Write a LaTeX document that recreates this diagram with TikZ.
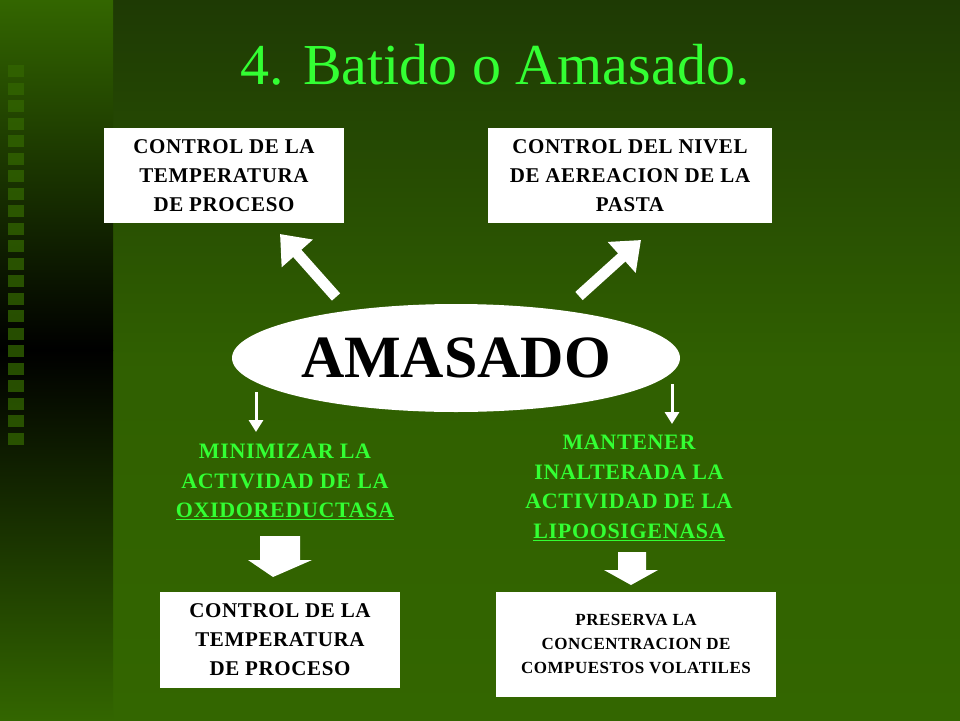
\documentclass[tikz,border=0pt]{standalone}
\usepackage{fontspec}
\setmainfont{Liberation Serif}
\usetikzlibrary{shapes.geometric,arrows.meta}
\definecolor{lg}{HTML}{33FF33}
\definecolor{dg}{HTML}{1E3A04}
\definecolor{mg}{HTML}{336600}
\newfontfamily\spaced[LetterSpace=3]{Liberation Serif}
\tikzset{
 box/.style={fill=white,minimum width=#1,inner sep=0pt,align=center,font=\spaced\bfseries\fontsize{21}{29}\selectfont},
 gtext/.style={text=lg,align=center,font=\spaced\bfseries\fontsize{22}{29.5}\selectfont},
 bigarrow/.style={white,line width=11pt,-{Triangle[length=26pt,width=40pt]}},
 thin/.style={white,line width=3pt,-{Triangle[length=12pt,width=14pt]}},
}
\begin{document}
\begin{tikzpicture}[x=1pt,y=-1pt]
\useasboundingbox (0,0) rectangle (960,720);
\shade[top color=dg,bottom color=mg,middle color=mg!85!dg] (113,0) rectangle (960,720);
\shade[top color=mg,bottom color=black] (0,0) rectangle (113,350);
\shade[top color=black,bottom color=mg] (0,350) rectangle (113,720);
\foreach \i in {0,...,21} \fill[mg,opacity=0.75] (8,{65+\i*17.5}) rectangle (24,{77+\i*17.5});
\node[text=lg,font=\fontsize{58}{60}\selectfont] (title) at (495,65) {4. Batido o Amasado.};
\node[box=240pt,minimum height=95pt] (tl) at (224,175.5) {CONTROL DE LA\\TEMPERATURA\\DE PROCESO};
\node[box=284pt,minimum height=95pt] (tr) at (630,175.5) {CONTROL DEL NIVEL\\DE AEREACION DE LA\\PASTA};
\node[ellipse,fill=white,minimum width=448pt,minimum height=108pt,inner sep=0pt,font=\bfseries\fontsize{60}{60}\selectfont] (am) at (456,358) {AMASADO};
\coordinate (a1s) at (336,297); \coordinate (a1e) at (280,234);
\coordinate (a2s) at (579,296); \coordinate (a2e) at (641,240);
\draw[bigarrow] (a1s) -- (a1e);
\draw[bigarrow] (a2s) -- (a2e);
\coordinate (t1s) at (256,392); \coordinate (t2s) at (672,384);
\node[gtext] (g1) at (285,482) {MINIMIZAR LA\\ACTIVIDAD DE LA\\\underline{OXIDOREDUCTASA}};
\node[gtext] (g2) at (629,488) {MANTENER\\INALTERADA LA\\ACTIVIDAD DE LA\\\underline{LIPOOSIGENASA}};
\draw[thin] (t1s) -- (256,432);
\draw[thin] (t2s) -- (672,424);
\fill[white] (260,536) -- (300,536) -- (300,560) -- (312,560) -- (273,577) -- (248,560)-- (260,560) -- cycle;
\fill[white] (618,552) -- (646,552) -- (646,570) -- (658,570) -- (631,585) -- (604,570) -- (618,570) -- cycle;
\node[box=240pt,minimum height=96pt] (bl) at (280,640) {CONTROL DE LA\\TEMPERATURA\\DE PROCESO};
\node[box=280pt,minimum height=105pt,font=\spaced\bfseries\fontsize{17}{24}\selectfont,anchor=north] (br) at (636,592) {\\[-14pt]PRESERVA LA\\CONCENTRACION DE\\COMPUESTOS VOLATILES};
\end{tikzpicture}
\end{document}
